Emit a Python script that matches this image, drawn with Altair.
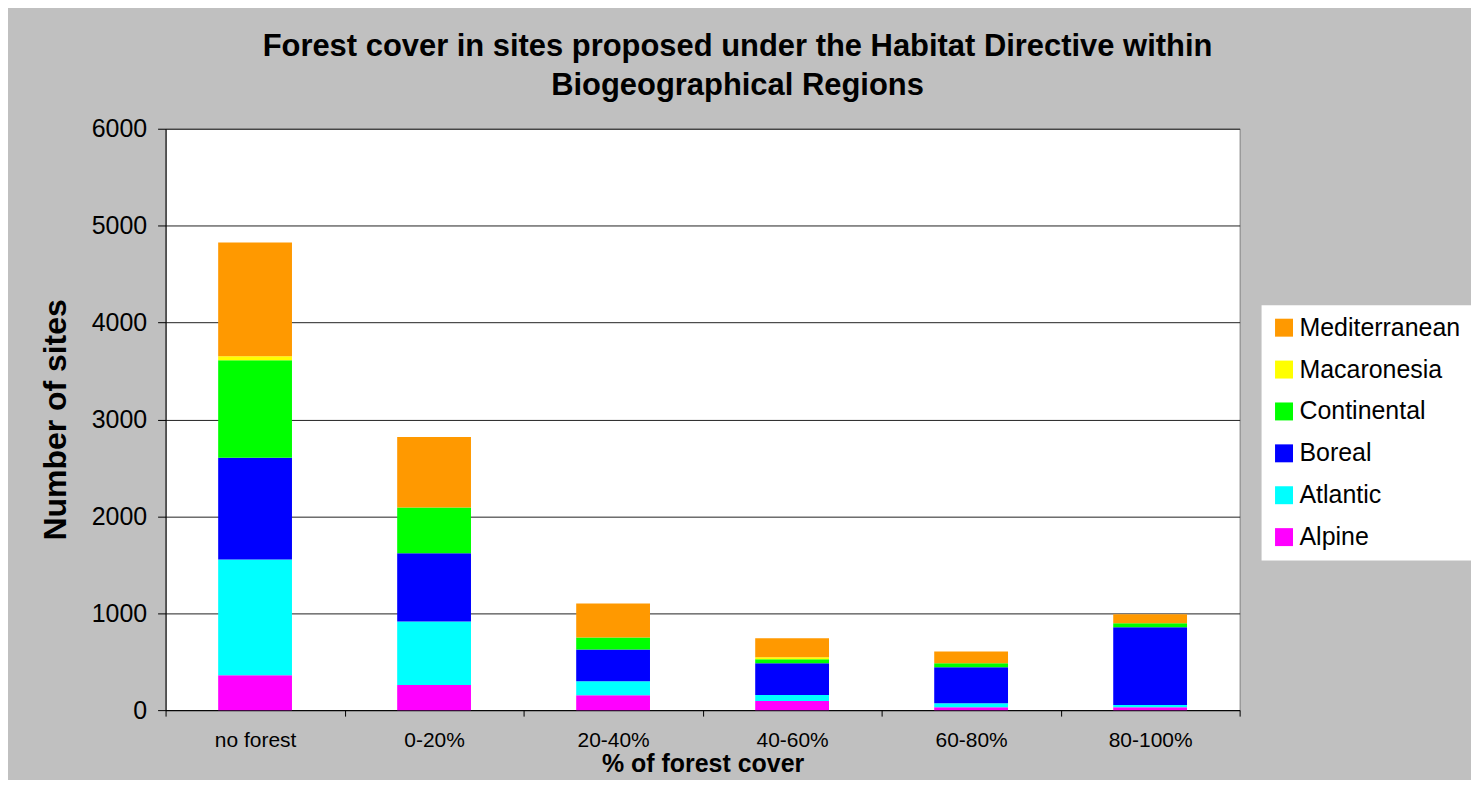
import altair as alt
import pandas as pd

categories = ["no forest", "0-20%", "20-40%", "40-60%", "60-80%", "80-100%"]
regions_stack = ["Alpine", "Atlantic", "Boreal", "Continental", "Macaronesia", "Mediterranean"]
legend_order = ["Mediterranean", "Macaronesia", "Continental", "Boreal", "Atlantic", "Alpine"]
legend_colors = ["#FF9900", "#FFFF00", "#00FF00", "#0000FF", "#00FFFF", "#FF00FF"]

alpine = [360, 260, 154, 93, 31, 31]
atlantic = [1194, 655, 144, 62, 41, 21]
boreal = [1050, 703, 329, 329, 370, 803]
continental = [1008, 473, 123, 41, 41, 41]
macaronesia = [41, 0, 0, 21, 0, 0]
mediterranean = [1173, 727, 350, 196, 123, 93]

y_ticks = [0, 1000, 2000, 3000, 4000, 5000, 6000]

series = [alpine, atlantic, boreal, continental, macaronesia, mediterranean]
rows = []
for rank, (name, vals) in enumerate(zip(regions_stack, series)):
    for cat, v in zip(categories, vals):
        rows.append({"cover": cat, "region": name, "sites": v, "rank": rank})
df = pd.DataFrame(rows)

FONT = "Liberation Sans"

chart = alt.Chart(df).mark_bar(size=74).encode(
    x=alt.X(
        "cover:N",
        sort=categories,
        scale=alt.Scale(paddingInner=0, paddingOuter=0),
        axis=alt.Axis(
            title="% of forest cover",
            titleFontSize=25,
            titleFontWeight="bold",
            titleColor="black",
            titleBaseline="alphabetic",
            titleY=62,
            labelAngle=0,
            labelFontSize=21,
            labelColor="black",
            labelPadding=13,
            tickBand="extent",
            tickSize=6,
            tickColor="black",
            domainColor="black",
            grid=False,
        ),
    ),
    y=alt.Y(
        "sites:Q",
        stack="zero",
        scale=alt.Scale(domain=[0, 6000], nice=False),
        axis=alt.Axis(
            title="Number of sites",
            titleFontSize=32,
            titleFontWeight="bold",
            titleColor="black",
            titleBaseline="alphabetic",
            titleX=-100,
            titleY=291.5,
            values=y_ticks,
            format="d",
            labelFontSize=25,
            labelColor="black",
            labelPadding=11,
            tickSize=8,
            tickColor="black",
            domainColor="black",
            grid=True,
            gridColor="#222222",
            gridWidth=1,
            gridOpacity=1,
        ),
    ),
    color=alt.Color(
        "region:N",
        scale=alt.Scale(domain=legend_order, range=legend_colors),
        legend=alt.Legend(
            title=None,
            orient="none",
            legendX=1099,
            legendY=177,
            fillColor="white",
            padding=10,
            symbolType="square",
            symbolSize=324,
            symbolStrokeWidth=0,
            labelFontSize=25,
            labelLimit=400,
            labelColor="black",
            rowPadding=16,
            labelOffset=3,
        ),
    ),
    order=alt.Order("rank:Q"),
).properties(
    width=1077,
    height=583,
    autosize=alt.AutoSizeParams(type="none"),
    padding={"left": 158, "top": 120, "right": 232, "bottom": 69},
    title=alt.TitleParams(
        text=["Forest cover in sites proposed under the Habitat Directive within",
              "Biogeographical Regions"],
        fontSize=31,
        fontWeight="bold",
        color="black",
        font=FONT,
        anchor="middle",
        frame="group",
        dx=35,
        dy=52,
        lineHeight=39,
        baseline="bottom",
        offset=36,
    ),
).configure(
    background="#C0C0C0",
    font=FONT,
).configure_view(
    fill="white",
    stroke="#808080",
    strokeWidth=1,
)

chart.save("out.html", embed_options={"renderer": "svg", "actions": False})
